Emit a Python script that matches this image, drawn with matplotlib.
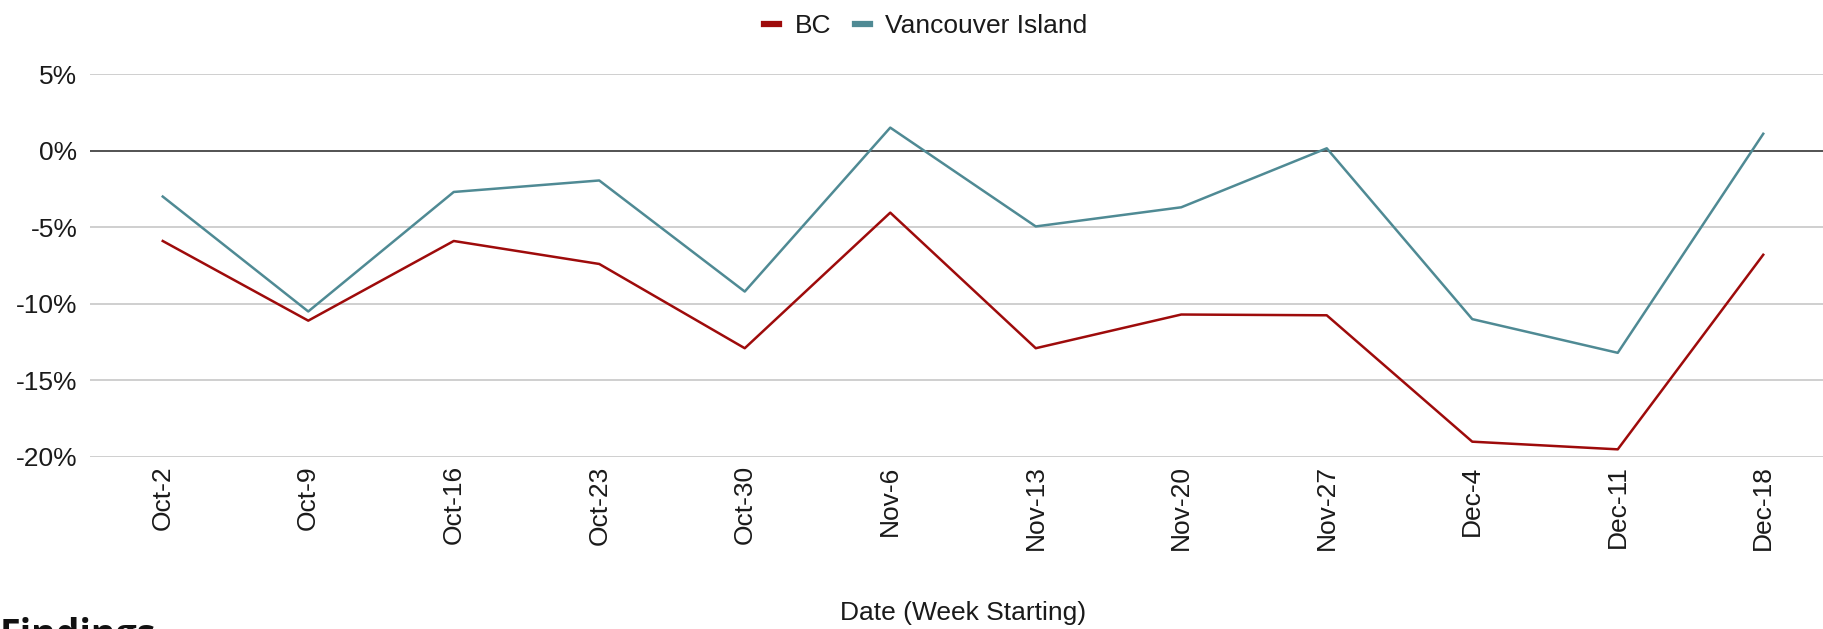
import matplotlib
matplotlib.use("Agg")
import matplotlib.pyplot as plt
from matplotlib.ticker import FuncFormatter

plt.rcParams['font.family'] = ['Liberation Sans', 'DejaVu Sans']

weeks = ['Oct-2', 'Oct-9', 'Oct-16', 'Oct-23', 'Oct-30', 'Nov-6',
         'Nov-13', 'Nov-20', 'Nov-27', 'Dec-4', 'Dec-11', 'Dec-18']
bc = [-5.9, -11.1, -5.9, -7.4, -12.9, -4.05, -12.9, -10.7, -10.75, -19.0, -19.5, -6.8]
vancouver_island = [-3.0, -10.5, -2.7, -1.95, -9.2, 1.5, -4.95, -3.7, 0.15, -11.0, -13.2, 1.1]
y_ticks = [5, 0, -5, -10, -15, -20]

W, H = 1823, 629
fig = plt.figure(figsize=(W / 100, H / 100), dpi=100)
# axes runs a little past the right edge, as in the source image
ax = fig.add_axes([90 / W, 1 - 457 / H, (1836 - 90) / W, (457 - 74) / H])

x = list(range(len(weeks)))
ax.plot(x, bc, color='#9e0b0b', lw=1.8, label='BC', zorder=3)
ax.plot(x, vancouver_island, color='#4f8a94', lw=1.8, label='Vancouver Island', zorder=3)

ax.set_ylim(-20, 5)
ax.set_xlim(-0.5, 11.5)
ax.set_yticks(y_ticks)
ax.yaxis.set_major_formatter(FuncFormatter(lambda v, _: f'{v:.0f}%'))
ax.set_xticks(x)
ax.set_xticklabels(weeks, rotation=90)
ax.tick_params(axis='both', length=0, labelsize=19, colors='#1a1a1a')
ax.tick_params(axis='y', pad=9)
ax.tick_params(axis='x', pad=6)

for v in y_ticks:
    if v == 0:
        ax.axhline(v, color='#444444', lw=1.3, zorder=2)
    else:
        ax.axhline(v, color='#cccccc', lw=1.3, zorder=1)
for s in ax.spines.values():
    s.set_visible(False)

fig.text(963 / W, 1 - 613 / H, 'Date (Week Starting)', ha='center', va='center',
         fontsize=19, color='#1a1a1a')

leg = fig.legend(loc='upper center', bbox_to_anchor=(0.508, 1.015), ncol=2, frameon=False,
                 fontsize=19, handlelength=0.55, handletextpad=0.6, columnspacing=0.9,
                 labelcolor='#1a1a1a')
for line in leg.get_lines():
    line.set_linewidth(4.5)

fig.text(0.0, 12 / H, 'Findings', ha='left', va='top', fontsize=27,
         fontweight='bold', family=['Open Sans', 'DejaVu Sans'], color='#111111')

fig.savefig('out.png', dpi=100)
